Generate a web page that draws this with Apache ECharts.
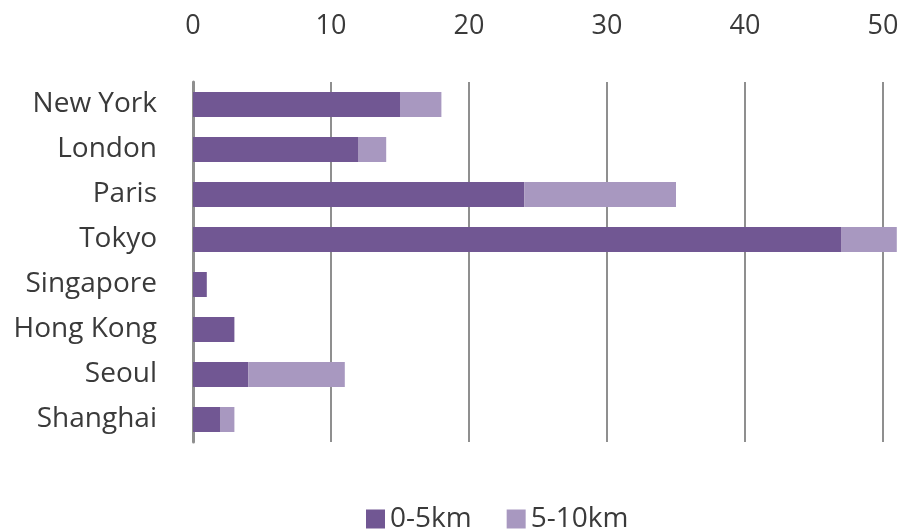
<!DOCTYPE html>
<html>
<head>
<meta charset="utf-8">
<script src="https://cdn.jsdelivr.net/npm/echarts@6/dist/echarts.min.js"></script>
<style>
  html, body { margin: 0; padding: 0; background: #fff; }
  #chart { width: 906px; height: 530px; }
</style>
</head>
<body>
<div id="chart"></div>
<script>
// Cities, top to bottom
const cities = ['New York', 'London', 'Paris', 'Tokyo', 'Singapore', 'Hong Kong', 'Seoul', 'Shanghai'];
// Counts per distance band
const near = [15, 12, 24, 47, 1, 3, 4, 2];     // 0-5km
const far = [3, 2, 11, 4, 0, 0, 7, 1];         // 5-10km
const seriesNames = ['0-5km', '5-10km'];
const xTicks = { min: 0, max: 50, interval: 10 };

const font = 'Open Sans, Noto Sans, sans-serif';
const textColor = '#3a3a3a';

const chart = echarts.init(document.getElementById('chart'));
chart.setOption({
  animation: false,
  grid: { left: 193, right: 23, top: 82, bottom: 88, containLabel: false },
  legend: {
    left: 366,
    top: 505,
    padding: 0,
    itemWidth: 19,
    itemHeight: 19,
    itemGap: 35,
    icon: 'rect',
    textStyle: { fontFamily: font, fontSize: 28, color: textColor, lineHeight: 28 },
    data: seriesNames
  },
  xAxis: {
    type: 'value',
    position: 'top',
    min: xTicks.min,
    max: xTicks.max,
    interval: xTicks.interval,
    axisLine: { show: false },
    axisTick: { show: false },
    axisLabel: { margin: 42, fontFamily: font, fontSize: 27, color: textColor },
    splitLine: { show: true, lineStyle: { color: '#8f8f8f', width: 2 } }
  },
  yAxis: {
    type: 'category',
    inverse: true,
    data: cities,
    axisLine: { show: true, lineStyle: { color: '#8f8f8f', width: 3 } },
    axisTick: { show: false },
    axisLabel: { margin: 36, fontFamily: font, fontSize: 28, color: textColor }
  },
  series: [
    {
      name: seriesNames[0],
      type: 'bar',
      stack: 'total',
      barWidth: 25,
      clip: false,
      itemStyle: { color: '#715793' },
      data: near
    },
    {
      name: seriesNames[1],
      type: 'bar',
      stack: 'total',
      barWidth: 25,
      clip: false,
      itemStyle: { color: '#a898c0' },
      data: far
    }
  ]
});
</script>
</body>
</html>
